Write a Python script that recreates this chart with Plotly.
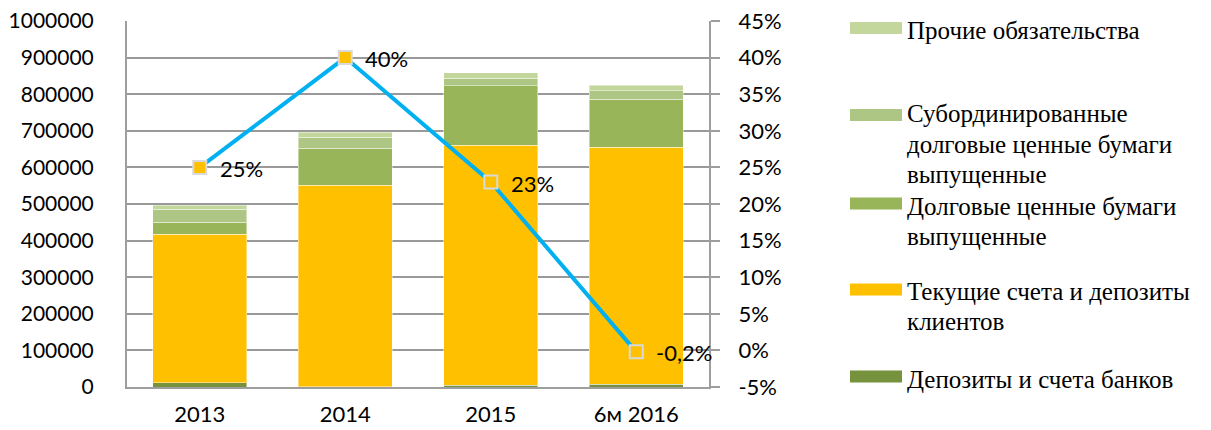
import plotly.graph_objects as go

categories = ["2013", "2014", "2015", "6м 2016"]
banks = [12000, 1000, 5000, 8000]
clients = [405000, 550000, 655000, 647600]
debt = [33000, 101000, 162700, 130700]
subord = [35000, 30000, 21100, 23700]
other = [11000, 14000, 15200, 14700]
growth = [0.25, 0.40, 0.23, -0.002]
growth_labels = ["25%", "40%", "23%", "-0,2%"]

names = ["Депозиты и счета банков", "Текущие счета и депозиты<br>клиентов",
         "Долговые ценные бумаги<br>выпущенные",
         "Субординированные<br>долговые ценные бумаги<br>выпущенные",
         "Прочие обязательства"]
colors = ["#76923C", "#FFC000", "#98B55A", "#ADC683", "#C3D69B"]
series = [banks, clients, debt, subord, other]

y_ticks = list(range(0, 1000001, 100000))
y2_ticks = [-0.05, 0, 0.05, 0.10, 0.15, 0.20, 0.25, 0.30, 0.35, 0.40, 0.45]
y2_text = ["-5%", "0%", "5%", "10%", "15%", "20%", "25%", "30%", "35%", "40%", "45%"]

fig = go.Figure()
for vals, c, n in zip(series, colors, names):
    fig.add_trace(go.Bar(x=categories, y=vals, name=n, marker_color=c,
                         marker_line=dict(color="rgba(255,255,255,0.45)", width=1),
                         showlegend=False))

fig.add_trace(go.Scatter(x=categories, y=growth, yaxis="y2", mode="lines+markers",
                         line=dict(color="#00B0F0", width=4),
                         marker=dict(symbol="square", size=13, color="#FFC000",
                                     line=dict(color="#D9D9D9", width=2)),
                         showlegend=False))

W, H = 1211, 430
L, R, T, B = 127, 502, 21, 43
PW, PH = W - L - R, H - T - B

def px(x):
    return (x - L) / PW

def py(y):
    return (H - B - y) / PH

annotations = []
for i, (v, t) in enumerate(zip(growth, growth_labels)):
    annotations.append(dict(xref="x", yref="y2", x=i, y=v, text=t, showarrow=False,
                            xanchor="left", yanchor="middle", xshift=18, yshift=-1,
                            font=dict(family="Lato", size=22, color="#000000")))

# legend (manual, top-to-bottom order as in reference): (series index, swatch y, first text line y)
legend_items = [
    (4, 28, 30),
    (3, 115, 114),
    (2, 203.5, 206),
    (1, 289.5, 291),
    (0, 376.5, 379),
]
shapes = []
for idx, yc, yt in legend_items:
    shapes.append(dict(type="rect", xref="paper", yref="paper",
                       x0=px(850), x1=px(902), y0=py(yc + 6), y1=py(yc - 6),
                       fillcolor=colors[idx], line=dict(width=0)))
    for k, line in enumerate(names[idx].split("<br>")):
        annotations.append(dict(xref="paper", yref="paper", x=px(905), y=py(yt + 30 * k),
                                xanchor="left", yanchor="middle", showarrow=False,
                                text=line,
                                font=dict(family="Liberation Serif", size=25, color="#000000")))

fig.update_layout(
    width=W, height=H,
    margin=dict(l=L, r=R, t=T, b=B, pad=0, autoexpand=False),
    barmode="stack", bargap=0.355,
    plot_bgcolor="white", paper_bgcolor="white",
    font=dict(family="Lato", size=22, color="#000000"),
    xaxis=dict(type="category", categoryorder="array", categoryarray=categories,
               range=[-0.5, len(categories) - 0.5],
               showline=True, linecolor="#9E9E9E", linewidth=2,
               showgrid=False, ticks="", tickfont=dict(size=22), ticklabelstandoff=7,
               automargin=False),
    yaxis=dict(range=[0, 1000000], tickvals=y_ticks, tickformat="d",
               showgrid=True, gridcolor="#999999", gridwidth=2,
               showline=True, linecolor="#9E9E9E", linewidth=2, automargin=False,
               ticks="", zeroline=False, ticklabelstandoff=27, tickfont=dict(size=21)),
    yaxis2=dict(range=[-0.05, 0.45], tickvals=y2_ticks, ticktext=y2_text,
                overlaying="y", side="right", showgrid=False, zeroline=False,
                showline=True, linecolor="#9E9E9E", linewidth=2, automargin=False,
                ticks="outside", ticklen=9, tickcolor="#9E9E9E", tickwidth=2,
                ticklabelstandoff=14, tickfont=dict(size=22)),
    shapes=shapes,
    annotations=annotations,
)

fig.write_html("out.html", config={"displayModeBar": False},
               post_script="document.body.style.margin='0';document.body.style.overflow='hidden';")
